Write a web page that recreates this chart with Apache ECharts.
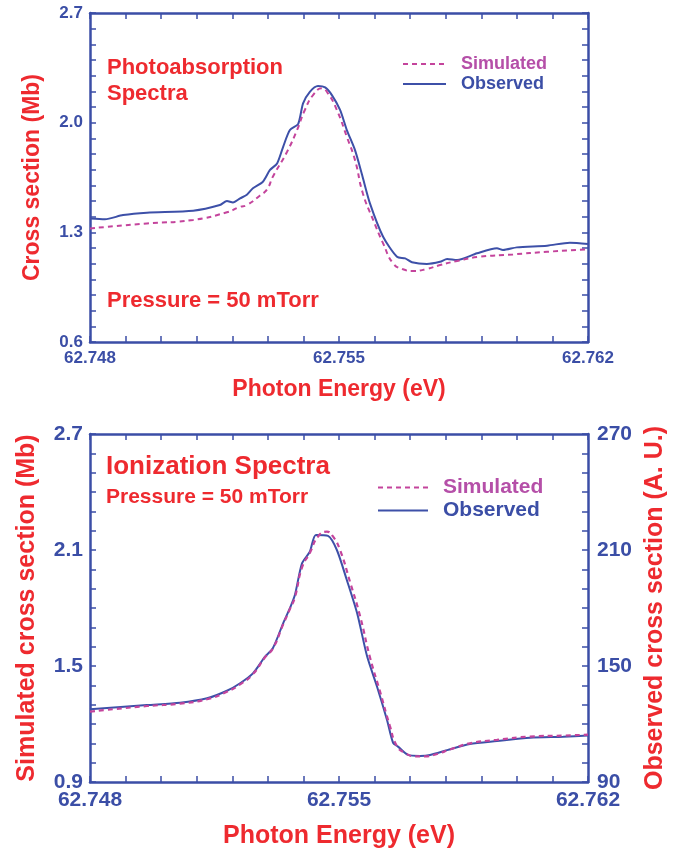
<!DOCTYPE html>
<html><head><meta charset="utf-8">
<script src="https://cdn.jsdelivr.net/npm/echarts@6/dist/echarts.min.js"></script>
<style>html,body{margin:0;padding:0;background:#fff}#c{width:674px;height:849px}</style>
</head><body><div id="c"></div>
<script>
// ---------- data ----------
// Top panel: photoabsorption spectra (Mb)
const topObsE = [62.74800,62.74842,62.74893,62.74960,62.75090,62.75165,62.75185,62.75202,62.75222,62.75241,62.75258,62.75286,62.75306,62.75326,62.75343,62.75362,62.75385,62.75399,62.75418,62.75441,62.75461,62.75480,62.75503,62.75522,62.75545,62.75565,62.75587,62.75624,62.75663,62.75686,62.75705,62.75747,62.75784,62.75804,62.75832,62.75888,62.75944,62.75961,62.76000,62.76085,62.76149,62.76200];
const topObsV = [1.389,1.384,1.410,1.425,1.438,1.474,1.500,1.491,1.517,1.540,1.581,1.623,1.698,1.740,1.846,1.953,1.991,2.123,2.197,2.234,2.225,2.176,2.081,1.953,1.825,1.666,1.485,1.272,1.144,1.134,1.109,1.098,1.112,1.130,1.123,1.166,1.198,1.187,1.204,1.215,1.234,1.225];
const topSimE = [62.74800,62.74960,62.75090,62.75185,62.75222,62.75241,62.75278,62.75298,62.75314,62.75354,62.75382,62.75404,62.75427,62.75452,62.75469,62.75494,62.75522,62.75545,62.75567,62.75596,62.75624,62.75652,62.75680,62.75708,62.75747,62.75784,62.75832,62.75896,62.75989,62.76085,62.76200];
const topSimV = [1.325,1.357,1.379,1.428,1.463,1.474,1.535,1.575,1.655,1.814,1.953,2.081,2.176,2.219,2.187,2.081,1.910,1.761,1.549,1.379,1.230,1.102,1.064,1.053,1.066,1.091,1.117,1.144,1.159,1.176,1.191];
// Bottom panel: ionization spectra
const botObsE = [62.74800,62.74960,62.75053,62.75129,62.75185,62.75222,62.75258,62.75292,62.75314,62.75343,62.75362,62.75376,62.75396,62.75418,62.75435,62.75469,62.75494,62.75522,62.75551,62.75579,62.75607,62.75635,62.75652,62.75666,62.75694,62.75728,62.75756,62.75804,62.75868,62.75944,62.76037,62.76130,62.76200];
const botObsAU = [127.6,129.8,131.0,133.3,137.2,141.1,146.2,154.8,159.2,172.1,179.9,186.7,203.1,209.1,217.8,217.3,210.0,194.5,177.3,155.0,139.3,122.1,110.3,108.3,104.0,103.5,104.0,106.5,109.7,111.2,112.9,113.4,114.0];
const botSimE = [62.74800,62.74960,62.75053,62.75129,62.75185,62.75222,62.75258,62.75292,62.75314,62.75343,62.75362,62.75376,62.75396,62.75418,62.75441,62.75466,62.75483,62.75503,62.75531,62.75559,62.75587,62.75615,62.75643,62.75663,62.75686,62.75714,62.75742,62.75776,62.75812,62.75868,62.75944,62.76037,62.76130,62.76200];
const botSimV = [1.264,1.293,1.305,1.328,1.367,1.405,1.458,1.545,1.590,1.715,1.795,1.855,2.010,2.085,2.170,2.195,2.170,2.100,1.935,1.760,1.545,1.370,1.190,1.085,1.050,1.033,1.033,1.045,1.068,1.100,1.118,1.135,1.140,1.145];

// tick labels
const xTickLabels = [62.748, 62.755, 62.762];
const topYTickLabels = [0.6, 1.3, 2.0, 2.7];
const botYTickLabels = [0.9, 1.5, 2.1, 2.7];
const botY2TickLabels = [90, 150, 210, 270];

// ---------- styling ----------
const BLUE = '#3b4ea6', RED = '#ee2a2f', MAG = '#c4449c', MAGTXT = '#b54fa8', LINEBLUE = '#3d50a8';
const FONT = '"Liberation Sans", Arial, Helvetica, sans-serif';
const zip = (a, b) => a.map((v, i) => [v, b[i]]);
const pick = (list, dec) => v => list.some(t => Math.abs(t - v) < 1e-6) ? v.toFixed(dec) : '';

function xAx(grid, top, fs, nfs, gap) {
  return {
    type: 'value', gridIndex: grid, position: top ? 'top' : 'bottom',
    min: 62.748, max: 62.762, interval: 0.001,
    axisLine: { onZero: false, lineStyle: { color: BLUE, width: 2.5 } },
    axisTick: { inside: true, length: 6, lineStyle: { color: BLUE, width: 1.5 } },
    splitLine: { show: false },
    axisLabel: { show: !top, formatter: pick(xTickLabels, 3), color: BLUE, fontFamily: FONT, fontWeight: 'bold', fontSize: fs, margin: 8 },
    name: top ? '' : 'Photon Energy (eV)', nameLocation: 'middle', nameGap: gap,
    nameTextStyle: { color: RED, fontFamily: FONT, fontWeight: 'bold', fontSize: nfs }
  };
}
function yAx(grid, pos, min, max, interval, labels, dec, showLabel, fs, name, gap, nfs) {
  return {
    type: 'value', gridIndex: grid, position: pos, min: min, max: max, interval: interval,
    axisLine: { onZero: false, lineStyle: { color: BLUE, width: 2.5 } },
    axisTick: { inside: true, length: 6, lineStyle: { color: BLUE, width: 1.5 } },
    splitLine: { show: false },
    axisLabel: { show: showLabel, formatter: pick(labels, dec), color: BLUE, fontFamily: FONT, fontWeight: 'bold', fontSize: fs, margin: pos === 'left' ? 7 : 9 },
    name: name, nameLocation: 'middle', nameRotate: 90, nameGap: gap,
    nameTextStyle: { color: RED, fontFamily: FONT, fontWeight: 'bold', fontSize: nfs }
  };
}
const legendItems = [{ name: 'Simulated', textStyle: { color: MAGTXT } }, { name: 'Observed', textStyle: { color: BLUE } }];
const hiddenSymbol = { color: 'rgba(0,0,0,0)', borderWidth: 0, opacity: 0 };

const chart = echarts.init(document.getElementById('c'), null, { renderer: 'canvas' });
const option = {
  animation: false,
  backgroundColor: '#fff',
  grid: [
    { left: 90, top: 13, width: 498, height: 329, outerBoundsMode: 'none', containLabel: false },
    { left: 90, top: 434, width: 498, height: 348, outerBoundsMode: 'none', containLabel: false }
  ],
  xAxis: [xAx(0, false, 17, 23, 36), xAx(0, true, 17, 23, 0), xAx(1, false, 21, 25, 42), xAx(1, true, 21, 25, 0)],
  yAxis: [
    yAx(0, 'left', 0.6, 2.7, 0.1, topYTickLabels, 1, true, 17, 'Cross section (Mb)', 46, 23),
    yAx(0, 'right', 0.6, 2.7, 0.1, topYTickLabels, 1, false, 17, '', 0, 23),
    yAx(1, 'left', 0.9, 2.7, 0.1, botYTickLabels, 1, true, 21, 'Simulated cross section (Mb)', 50, 25),
    yAx(1, 'right', 90, 270, 10, botY2TickLabels, 0, true, 21, 'Observed cross section (A. U.)', 50, 25)
  ],
  legend: [
    { orient: 'vertical', left: 397, top: 50, itemWidth: 43, itemHeight: 14, itemGap: 2,
      itemStyle: hiddenSymbol,
      textStyle: { fontFamily: FONT, fontWeight: 'bold', fontSize: 18, padding: [0, 0, 0, 10] },
      data: legendItems },
    { orient: 'vertical', left: 372, top: 472, itemWidth: 50, itemHeight: 16, itemGap: 2,
      itemStyle: hiddenSymbol,
      textStyle: { fontFamily: FONT, fontWeight: 'bold', fontSize: 21, padding: [0, 0, 0, 10] },
      data: legendItems }
  ],
  graphic: [
    { type: 'text', left: 107, top: 57, style: { text: 'Photoabsorption', fill: RED, font: 'bold 22px ' + FONT } },
    { type: 'text', left: 107, top: 83, style: { text: 'Spectra', fill: RED, font: 'bold 22px ' + FONT } },
    { type: 'text', left: 107, top: 290, style: { text: 'Pressure = 50 mTorr', fill: RED, font: 'bold 22px ' + FONT } },
    { type: 'text', left: 106, top: 454, style: { text: 'Ionization Spectra', fill: RED, font: 'bold 26px ' + FONT } },
    { type: 'text', left: 106, top: 487, style: { text: 'Pressure = 50 mTorr', fill: RED, font: 'bold 21px ' + FONT } }
  ],
  series: [
    { name: 'Observed', type: 'line', xAxisIndex: 0, yAxisIndex: 0, data: zip(topObsE, topObsV), symbol: 'none', smooth: 0.25,
      lineStyle: { color: LINEBLUE, width: 2 }, itemStyle: { color: LINEBLUE } },
    { name: 'Simulated', type: 'line', xAxisIndex: 0, yAxisIndex: 0, data: zip(topSimE, topSimV), symbol: 'none', smooth: true,
      lineStyle: { color: MAG, width: 2, type: [5, 4] }, itemStyle: { color: MAG } },
    { name: 'Observed', type: 'line', xAxisIndex: 2, yAxisIndex: 3, data: zip(botObsE, botObsAU), symbol: 'none', smooth: 0.25,
      lineStyle: { color: LINEBLUE, width: 2 }, itemStyle: { color: LINEBLUE } },
    { name: 'Simulated', type: 'line', xAxisIndex: 2, yAxisIndex: 2, data: zip(botSimE, botSimV), symbol: 'none', smooth: true,
      lineStyle: { color: MAG, width: 2.2, type: [5, 4] }, itemStyle: { color: MAG } }
  ]
};
chart.setOption(option);
</script>
</body></html>
